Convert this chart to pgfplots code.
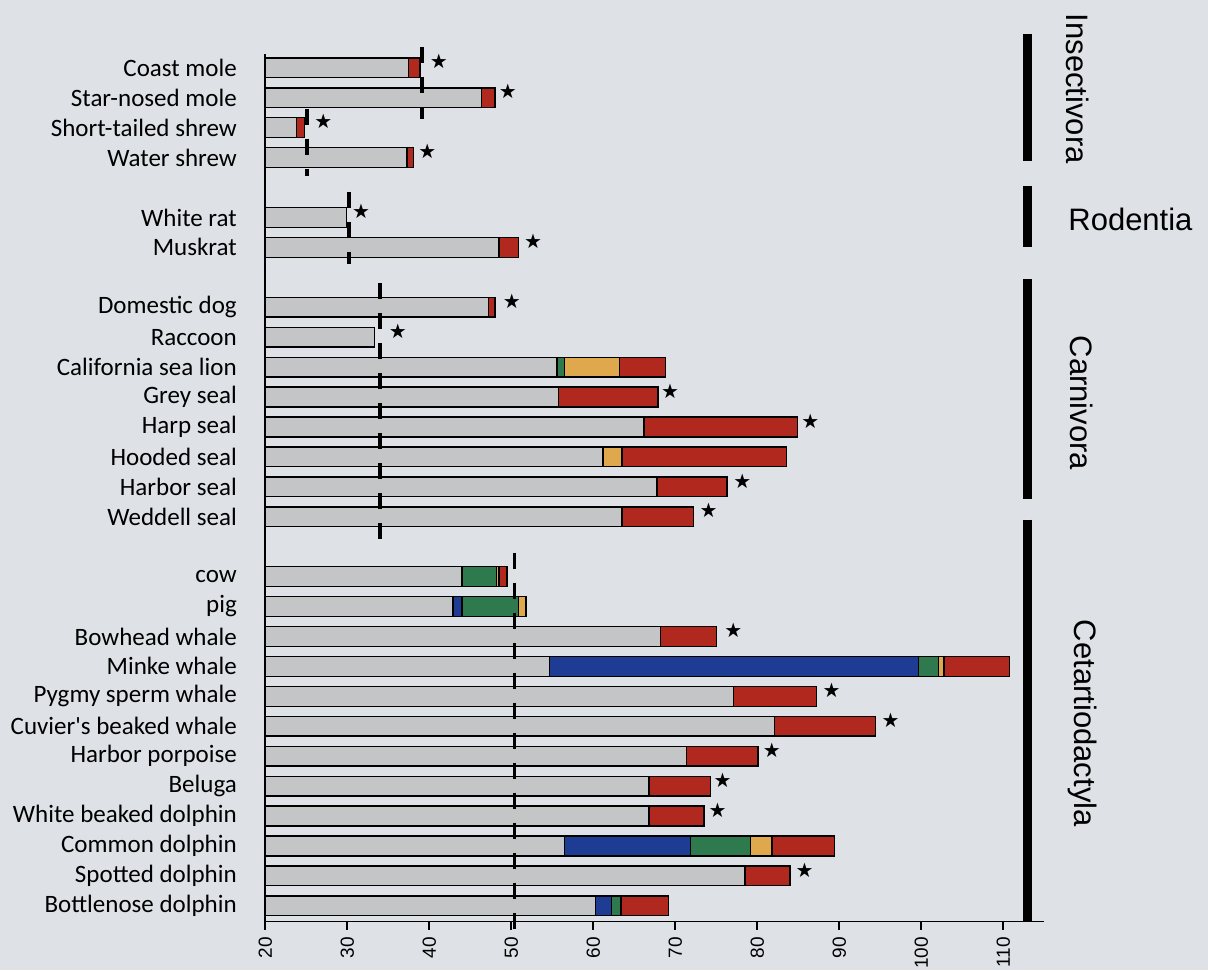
\documentclass[border=0pt]{standalone}
\usepackage{pgfplots}
\pgfplotsset{compat=1.18}
\usepackage{pgfplotstable}
\usepackage{fontspec}
\setmainfont{Liberation Sans}
\newfontfamily\calib{Carlito}
\newfontfamily\dejavu{DejaVu Sans}
\definecolor{bg}{RGB}{222,225,230}
\definecolor{bgrey}{RGB}{196,197,199}
\definecolor{bred}{RGB}{176,40,30}
\definecolor{borange}{RGB}{224,168,76}
\definecolor{bgreen}{RGB}{46,122,78}
\definecolor{bblue}{RGB}{30,60,148}

% cumulative ends of the segments: grey, blue, green, orange, red(total)
\pgfplotstableread{
pos grey blue green orange total
0   37.5 37.5 37.5 37.5 38.9
-1  46.4 46.4 46.4 46.4 48.0
-2  23.8 23.8 23.8 23.8 24.8
-3  37.3 37.3 37.3 37.3 38.1
-5  29.9 29.9 29.9 29.9 29.9
-6  48.5 48.5 48.5 48.5 50.9
-8  47.2 47.2 47.2 47.2 48.0
-9  33.3 33.3 33.3 33.3 33.3
-10 55.6 55.6 56.5 63.2 68.8
-11 55.8 55.8 55.8 55.8 67.9
-12 66.2 66.2 66.2 66.2 84.9
-13 61.2 61.2 61.2 63.5 83.6
-14 67.8 67.8 67.8 67.8 76.3
-15 63.5 63.5 63.5 63.5 72.2
-17 44.0 44.0 48.2 48.5 49.5
-18 42.9 44.0 50.9 51.8 51.8
-19 68.2 68.2 68.2 68.2 75.0
-20 54.7 99.7 102.1 102.8 110.8
-21 77.1 77.1 77.1 77.1 87.2
-22 82.1 82.1 82.1 82.1 94.4
-23 71.4 71.4 71.4 71.4 80.1
-24 66.8 66.8 66.8 66.8 74.3
-25 66.8 66.8 66.8 66.8 73.5
-26 56.5 71.9 79.2 81.8 89.4
-27 78.5 78.5 78.5 78.5 84.0
-28 60.3 62.2 63.4 63.4 69.2
}\bars

\pgfplotstableread{
pos x
0   40.0
-1  48.4
-2  25.9
-3  38.6
-5  30.5
-6  51.5
-8  48.9
-9  35.0
-11 68.2
-12 85.3
-14 77.0
-15 72.9
-19 75.9
-21 87.9
-22 95.1
-23 80.6
-24 74.6
-25 74.0
-27 84.6
}\stars

\pgfdeclareplotmark{bigstar}{\node[inner sep=0pt, anchor=west, font=\dejavu\fontsize{10}{10}\selectfont] at (0pt,3pt) {★};}

\begin{document}
\begin{tikzpicture}
\useasboundingbox (-132.6pt,-24.15pt) rectangle (471.4pt,460.85pt);
\fill[bg] (-132.6pt,-24.15pt) rectangle (471.4pt,460.85pt);
\begin{axis}[
  at={(0pt,0pt)}, anchor=south west,
  x=4.1pt, y=14.965pt,
  x coord trafo/.code={\pgfmathparse{#1-20}},
  x coord inv trafo/.code={\pgfmathparse{#1+20}},
  xmin=20, xmax=115, ymin=-28.53, ymax=0.47,
  clip=false,
  axis x line*=bottom, axis y line*=left,
  axis line style={line width=0.75pt, black},
  xtick={20,30,...,110},
  tick align=outside,
  major tick length=4pt,
  xtick style={line width=0.75pt, black},
  ytick style={draw=none},
  minor tick num=0,
  xticklabel={\fontsize{9.5}{11}\selectfont\pgfmathprintnumber[assume math mode=true]{\tick}},
  xticklabel style={rotate=90, anchor=east, inner xsep=3.5pt, inner ysep=0pt, text depth=0pt},
  ytick={0,-1,-2,-3,-5,-6,-8,-9,-10,-11,-12,-13,-14,-15,-17,-18,-19,-20,-21,-22,-23,-24,-25,-26,-27,-28},
  yticklabels={Coast mole,Star-nosed mole,Short-tailed shrew,Water shrew,White rat,Muskrat,Domestic dog,Raccoon,California sea lion,Grey seal,Harp seal,Hooded seal,Harbor seal,Weddell seal,cow,pig,Bowhead whale,Minke whale,Pygmy sperm whale,Cuvier's beaked whale,Harbor porpoise,Beluga,White beaked dolphin,Common dolphin,Spotted dolphin,Bottlenose dolphin},
  yticklabel style={anchor=east, inner sep=0pt, xshift=-10pt, font=\calib\fontsize{12.5}{14}\selectfont},
  every axis plot/.append style={line width=0.7pt},
]
\addplot[xbar, bar width=0.66, bar shift=0pt, draw=black, fill=bred] table[x=total, y=pos] {\bars};
\addplot[xbar, bar width=0.66, bar shift=0pt, draw=black, fill=borange] table[x=orange, y=pos] {\bars};
\addplot[xbar, bar width=0.66, bar shift=0pt, draw=black, fill=bgreen] table[x=green, y=pos] {\bars};
\addplot[xbar, bar width=0.66, bar shift=0pt, draw=black, fill=bblue] table[x=blue, y=pos] {\bars};
\addplot[xbar, bar width=0.66, bar shift=0pt, draw=black, fill=bgrey] table[x=grey, y=pos] {\bars};

\addplot[black, line width=1.8pt, dash pattern=on 8pt off 7pt] coordinates {(39.1,0.7) (39.1,-1.7)};
\addplot[black, line width=1.8pt, dash pattern=on 8pt off 7pt] coordinates {(25.1,-1.37) (25.1,-3.6)};
\addplot[black, line width=1.8pt, dash pattern=on 8pt off 7pt] coordinates {(30.2,-4.14) (30.2,-6.55)};
\addplot[black, line width=1.8pt, dash pattern=on 8pt off 7pt] coordinates {(34.0,-7.2) (34.0,-15.9)};
\addplot[black, line width=1.8pt, dash pattern=on 8pt off 7pt] coordinates {(50.4,-16.2) (50.4,-28.8)};

\addplot[only marks, mark=bigstar, black] table[x=x, y=pos] {\stars};

\draw[line width=4.5pt] (axis cs:113,1.14) -- (axis cs:113,-3.11);
\draw[line width=4.5pt] (axis cs:113,-3.94) -- (axis cs:113,-5.98);
\draw[line width=4.5pt] (axis cs:113,-7.05) -- (axis cs:113,-14.4);
\draw[line width=4.5pt] (axis cs:113,-15.1) -- (axis cs:113,-28.53);

\node[rotate=-90, font=\fontsize{15.5}{18}\selectfont, inner sep=0pt] at (axis cs:119.1,-0.7) {Insectivora};
\node[anchor=west, font=\fontsize{15.5}{18}\selectfont, inner sep=0pt] at (axis cs:117.9,-5.05) {Rodentia};
\node[rotate=-90, font=\fontsize{15.5}{18}\selectfont, inner sep=0pt] at (axis cs:119.5,-11.2) {Carnivora};
\node[rotate=-90, font=\fontsize{15.5}{18}\selectfont, inner sep=0pt] at (axis cs:119.7,-21.9) {Cetartiodactyla};
\end{axis}
\end{tikzpicture}
\end{document}
